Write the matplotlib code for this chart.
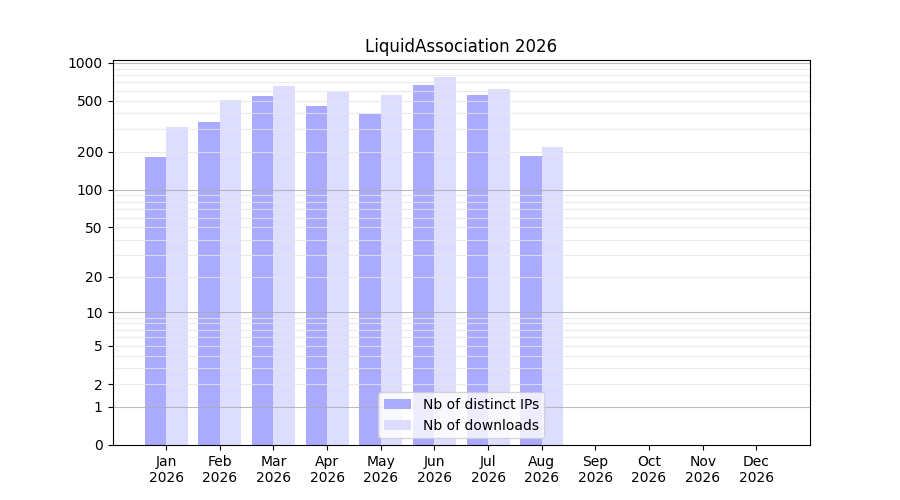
import numpy as np
import matplotlib
matplotlib.use("Agg")
import matplotlib.pyplot as plt
from matplotlib.ticker import FixedLocator, FixedFormatter, NullFormatter

months = ["Jan", "Feb", "Mar", "Apr", "May", "Jun", "Jul", "Aug", "Sep", "Oct", "Nov", "Dec"]
year = "2026"
distinct_ips = [180, 339, 544, 453, 392, 663, 554, 186]
downloads = [310, 505, 651, 584, 554, 767, 617, 219]
major_ticks = [0, 1, 2, 5, 10, 20, 50, 100, 200, 500, 1000]

fig, ax = plt.subplots(figsize=(9, 5), dpi=100)
ax.set_yscale("function", functions=(lambda v: np.log10(1 + np.clip(v, 0, None)),
                                      lambda v: 10 ** v - 1))
x = np.arange(len(distinct_ips))
ax.bar(x - 0.2, distinct_ips, width=0.4, color="#aaaaff", label="Nb of distinct IPs")
ax.bar(x + 0.2, downloads, width=0.4, color="#ddddff", label="Nb of downloads")

ax.set_xlim(-1, 12)
ax.set_ylim(0, 1050)
ax.set_xticks(np.arange(12))
ax.set_xticklabels([f"{m}\n{year}" for m in months])
ax.yaxis.set_major_locator(FixedLocator(major_ticks))
ax.yaxis.set_major_formatter(FixedFormatter([str(t) for t in major_ticks]))
ax.yaxis.set_minor_locator(FixedLocator([]))
ax.yaxis.set_minor_formatter(NullFormatter())

minor = [k * d for d in (1, 10, 100) for k in range(2, 10)]
for v in [1, 10, 100, 1000]:
    ax.axhline(v, color="#aaaaaa", lw=0.8, alpha=0.8, zorder=2)
for v in minor:
    ax.axhline(v, color="#e6e6e6", lw=0.8, alpha=0.8, zorder=2)

ax.set_title("LiquidAssociation 2026")
leg = ax.legend(loc="lower center")
leg.set_zorder(5)
fig.savefig("out.png", dpi=100)
